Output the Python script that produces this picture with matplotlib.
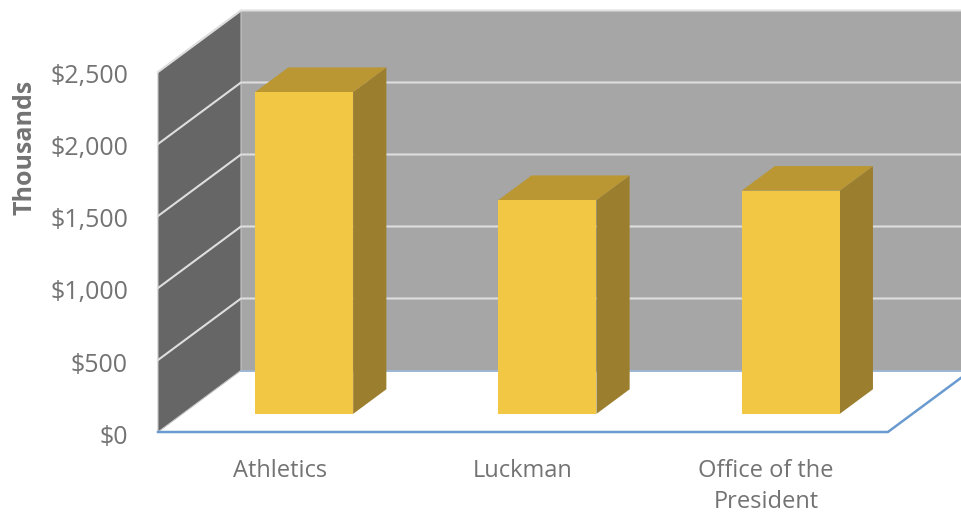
import matplotlib
matplotlib.use('Agg')
import matplotlib.pyplot as plt
from matplotlib.patches import Polygon

# values (thousands of dollars)
categories = ['Athletics', 'Luckman', 'Office of the\nPresident']
values = [2235, 1485, 1550]
ticks = [0, 500, 1000, 1500, 2000, 2500]
tick_labels = ['$0', '$500', '$1,000', '$1,500', '$2,000', '$2,500']

plt.rcParams['font.family'] = ['Open Sans', 'DejaVu Sans']

W, H = 961, 514
LEFT, BASE = 158, 432     # pixel position of category 0 / value 0 on the front plane
PX_CAT = 243.3            # pixels per category
PX_VAL = 0.144            # pixels per value unit
DEPTH_X = 83 / PX_CAT     # wall offset along x
DEPTH_Y = 61.5 / PX_VAL   # wall offset along y
BAR_W = 0.403
D0, D1 = 0.295, 0.695     # bar depth range
TOP = ticks[-1]
N = len(categories)

GREY_TEXT = '#737373'
BLUE = '#6a9bd0'
GRID = '#dedede'


def proj(x, v, d=0.0):
    return (x + d * DEPTH_X, v + d * DEPTH_Y)


fig = plt.figure(figsize=(W / 100, H / 100), dpi=100)
ax = fig.add_axes([0, 0, 1, 1])
ax.set_xlim(-LEFT / PX_CAT, (W - LEFT) / PX_CAT)
ax.set_ylim(-(H - BASE) / PX_VAL, BASE / PX_VAL)
ax.axis('off')

# back wall, runs out of the picture on the right
ax.add_patch(Polygon([proj(0, 0, 1), proj(N, 0, 1), proj(N, TOP, 1), proj(0, TOP, 1)],
                     fc='#a6a6a6', ec='none', zorder=1))
# side wall
ax.add_patch(Polygon([proj(0, 0), proj(0, 0, 1), proj(0, TOP, 1), proj(0, TOP)],
                     fc='#666666', ec='#c4c4c4', lw=0.8, zorder=2))

# gridlines on both walls
for t in ticks[1:]:
    xs, ys = zip(proj(0, t), proj(0, t, 1), proj(N, t, 1))
    ax.plot(xs, ys, color=GRID, lw=1.5, zorder=3)

# floor outline, the back edge is fainter
xs, ys = zip(proj(0, 0), proj(N, 0), proj(N, 0, 1))
ax.plot(xs, ys, color=BLUE, lw=1.8, zorder=4, solid_joinstyle='miter')
xs, ys = zip(proj(0, 0, 1), proj(N, 0, 1))
ax.plot(xs, ys, color='#9db6d2', lw=1.4, zorder=4)

# bars
for i, v in enumerate(values):
    x0 = i + 0.5 - BAR_W / 2
    x1 = i + 0.5 + BAR_W / 2
    ax.add_patch(Polygon([proj(x0, 0, D0), proj(x1, 0, D0), proj(x1, v, D0), proj(x0, v, D0)],
                         fc='#f2c744', ec='none', zorder=6))
    ax.add_patch(Polygon([proj(x1, 0, D0), proj(x1, 0, D1), proj(x1, v, D1), proj(x1, v, D0)],
                         fc='#9c7f2e', ec='none', zorder=5))
    ax.add_patch(Polygon([proj(x0, v, D0), proj(x1, v, D0), proj(x1, v, D1), proj(x0, v, D1)],
                         fc='#ba9732', ec='none', zorder=5))

# value labels
for t, lab in zip(ticks, tick_labels):
    ax.text(-30 / PX_CAT, t - 5 / PX_VAL, lab, ha='right', va='center', fontsize=18, color=GREY_TEXT)

# category labels
for i, c in enumerate(categories):
    ax.text(i + 0.5, -(459 - BASE) / PX_VAL, c, ha='center', va='top', fontsize=17,
            color=GREY_TEXT, linespacing=1.4)

ax.text(-133 / PX_CAT, (BASE - 147) / PX_VAL, 'Thousands', rotation=90, ha='center', va='center',
        fontsize=18, fontweight='bold', color=GREY_TEXT)

fig.savefig('out.png', dpi=100, facecolor='white')
